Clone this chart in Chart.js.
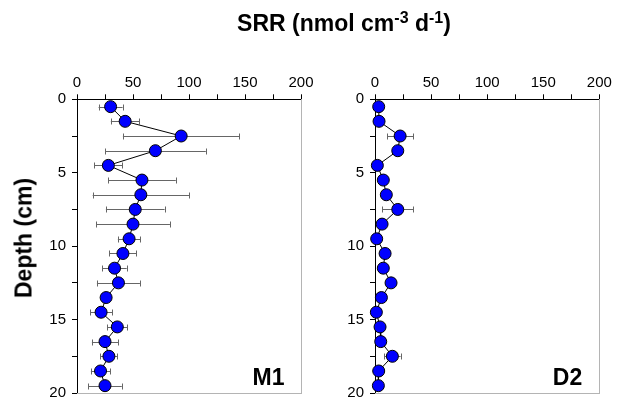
<!DOCTYPE html>
<html>
<head>
<meta charset="utf-8">
<script src="https://cdn.jsdelivr.net/npm/chart.js@4.4.1/dist/chart.umd.min.js"></script>
<style>
  body { margin: 0; background: #fff; width: 624px; height: 408px; position: relative; overflow: hidden; font-family: "Liberation Sans", Arial, sans-serif; }
  .panel { position: absolute; top: 0; width: 320px; height: 408px; }
  .lbl { position: absolute; font-weight: bold; font-size: 23px; line-height: 23px; white-space: nowrap; color: #000; }
  .lbl sup { font-size: 16px; vertical-align: 8px; line-height: 0; }
</style>
</head>
<body>
<div class="panel" style="left:0"><canvas id="m1" width="320" height="408"></canvas></div>
<div class="panel" style="left:304px"><canvas id="d2" width="320" height="408"></canvas></div>
<div class="lbl" style="left:344px; top:12px; transform:translateX(-50%)">SRR (nmol cm<sup>-3</sup> d<sup>-1</sup>)</div>
<div class="lbl" style="left:23.5px; top:238px; transform:translate(-50%,-50%) rotate(-90deg)">Depth (cm)</div>
<div class="lbl" style="left:268.5px; top:365.5px; transform:translateX(-50%)">M1</div>
<div class="lbl" style="left:567.5px; top:365.5px; transform:translateX(-50%)">D2</div>
<script>
// depth of each sample (cm)
const depths = [0.5, 1.5, 2.5, 3.5, 4.5, 5.5, 6.5, 7.5, 8.5, 9.5, 10.5, 11.5, 12.5, 13.5, 14.5, 15.5, 16.5, 17.5, 18.5, 19.5];

// SRR, nmol cm-3 d-1, and error (+/-)
const m1Srr = [30, 43, 93, 70, 28, 58, 57, 52, 50, 46.5, 41, 33.5, 37, 26, 21.5, 36, 25, 28.5, 21, 25];
const m1Err = [10.7, 12.8, 52, 45, 12.4, 30.2, 43, 26.2, 33, 10, 12, 10.9, 19.2, 3, 9.8, 8.8, 11.7, 7.6, 8.6, 15];
const d2Srr = [3.3, 3.6, 22.4, 20.3, 2.1, 7.4, 10.1, 20.3, 6.3, 1.5, 9, 7.4, 14.3, 5.7, 1.2, 4.5, 5.1, 15.5, 3.3, 3];
const d2Err = [2, 2, 11.5, 3, 1, 2, 2, 13.7, 2, 1, 2, 2, 3, 2, 1, 1, 2, 7.3, 1, 1];

const xTicks = [0, 50, 100, 150, 200];
const yTicks = [0, 5, 10, 15, 20];

const tickFont = { family: '"Liberation Sans", Arial, sans-serif', size: 15 };

// horizontal error bars, drawn under the points
const errorBars = {
    id: 'errorBars',
    beforeDatasetsDraw(chart, args, opts) {
        const ctx = chart.ctx;
        const x = chart.scales.x, y = chart.scales.y;
        const pts = chart.data.datasets[0].data;
        ctx.save();
        ctx.strokeStyle = '#666';
        ctx.lineWidth = 1;
        pts.forEach((p, i) => {
            const e = opts.errors[i];
            const x1 = x.getPixelForValue(p.x - e), x2 = x.getPixelForValue(p.x + e);
            const py = Math.round(y.getPixelForValue(p.y)) + 0.5;
            ctx.beginPath();
            ctx.moveTo(x1, py); ctx.lineTo(x2, py);
            ctx.moveTo(Math.round(x1) + 0.5, py - 3); ctx.lineTo(Math.round(x1) + 0.5, py + 3);
            ctx.moveTo(Math.round(x2) + 0.5, py - 3); ctx.lineTo(Math.round(x2) + 0.5, py + 3);
            ctx.stroke();
        });
        ctx.restore();
    }
};

function makePanel(id, values, errors, leftW, rightW) {
    const ctx = document.getElementById(id).getContext('2d');
    return new Chart(ctx, {
        type: 'scatter',
        data: {
            datasets: [{
                data: values.map((v, i) => ({x: v, y: depths[i]})),
                showLine: true,
                clip: false,
                borderColor: '#000',
                borderWidth: 1,
                pointRadius: 6,
                pointBackgroundColor: '#0000ff',
                pointBorderColor: '#000',
                pointBorderWidth: 1,
            }],
        },
        options: {
            responsive: false,
            animation: false,
            layout: { padding: 0 },
            plugins: {
                legend: { display: false },
                tooltip: { enabled: false },
                errorBars: { errors: errors },
            },
            scales: {
                x: {
                    type: 'linear', position: 'top', min: 0, max: 200,
                    ticks: {
                        stepSize: 25, autoSkip: false, maxRotation: 0, padding: 2,
                        color: '#000', font: tickFont,
                        callback: v => xTicks.includes(v) ? v : '',
                    },
                    grid: { drawOnChartArea: false, tickLength: 5, color: '#000' },
                    border: { color: '#000' },
                    afterFit: s => { s.height = 99.3; },
                },
                y: {
                    type: 'linear', reverse: true, min: 0, max: 20,
                    ticks: {
                        stepSize: 2.5, autoSkip: false, padding: 6,
                        color: '#000', font: tickFont,
                        callback: v => yTicks.includes(v) ? v : '',
                    },
                    grid: { drawOnChartArea: false, tickLength: 5, color: '#000' },
                    border: { color: '#000' },
                    afterFit: s => { s.width = leftW; },
                },
                x2: {
                    type: 'linear', position: 'bottom', min: 0, max: 200,
                    ticks: { display: false },
                    grid: { drawOnChartArea: false, drawTicks: false },
                    border: { color: '#b4b4b4' },
                    afterFit: s => { s.height = 9.7; },
                },
                y2: {
                    type: 'linear', position: 'right', min: 0, max: 20,
                    ticks: { display: false },
                    grid: { drawOnChartArea: false, drawTicks: false },
                    border: { color: '#b4b4b4' },
                    afterFit: s => { s.width = rightW; },
                },
            },
        },
        plugins: [errorBars],
    });
}

makePanel('m1', m1Srr, m1Err, 77, 19);
makePanel('d2', d2Srr, d2Err, 71, 24.7);
</script>
</body>
</html>
